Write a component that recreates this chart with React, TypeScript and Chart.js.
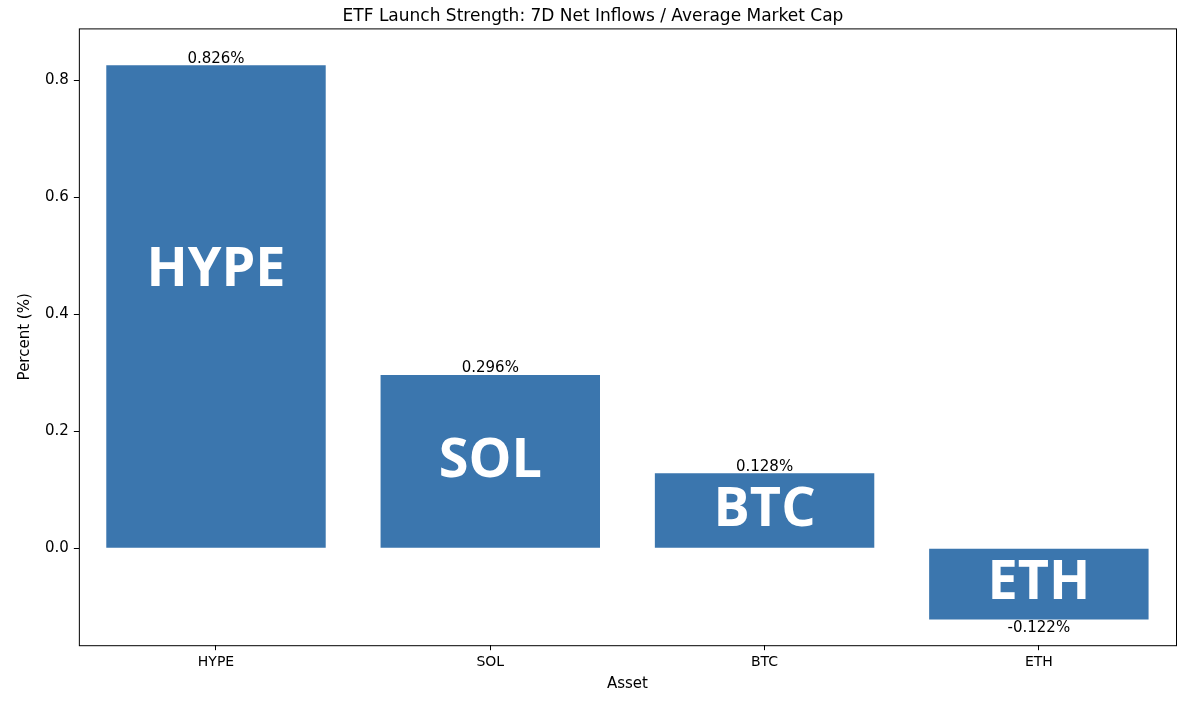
import React, { useEffect, useRef } from "react";
import { Chart, registerables } from "chart.js";
Chart.register(...registerables);

const categories = ["HYPE", "SOL", "BTC", "ETH"];
const values = [0.826, 0.296, 0.128, -0.122];
const valueLabels = ["0.826%", "0.296%", "0.128%", "-0.122%"];
const bigLabelValues = [0.475, 0.148, 0.064, -0.061];
const yTicks = [0, 0.2, 0.4, 0.6, 0.8];

const FONT = "'DejaVu Sans', sans-serif";

const overlay = {
  id: "overlay",
  afterDatasetsDraw(chart: any) {
    const ctx = chart.ctx;
    const meta = chart.getDatasetMeta(0);
    const y = chart.scales.y;
    const a = chart.chartArea;
    ctx.save();
    ctx.strokeStyle = "#000";
    ctx.lineWidth = 1;
    ctx.strokeRect(a.left + 0.5, a.top + 0.5, a.right - a.left, a.bottom - a.top);
    meta.data.forEach((bar: any, i: number) => {
      ctx.fillStyle = "#000";
      ctx.font = `15px ${FONT}`;
      ctx.textAlign = "center";
      ctx.textBaseline = values[i] >= 0 ? "bottom" : "top";
      ctx.fillText(valueLabels[i], bar.x, bar.y + 1);
      ctx.fillStyle = "#fff";
      ctx.font = `bold 54px 'Open Sans', sans-serif`;
      ctx.textBaseline = "middle";
      ctx.fillText(categories[i], bar.x, y.getPixelForValue(bigLabelValues[i]));
    });
    ctx.restore();
  },
};

export default function App() {
  const ref = useRef<HTMLCanvasElement>(null);
  useEffect(() => {
    document.body.style.margin = "0";
    const chart = new Chart(ref.current!, {
      type: "bar",
      data: {
        labels: categories,
        datasets: [{ data: values, backgroundColor: "#3b76ae", categoryPercentage: 1, barPercentage: 0.8 }],
      },
      plugins: [overlay],
      options: {
        animation: false,
        responsive: false,
        layout: { padding: { left: 10, right: 24, top: 0, bottom: 20 } },
        plugins: {
          legend: { display: false },
          tooltip: { enabled: false },
          title: {
            display: true,
            text: "ETF Launch Strength: 7D Net Inflows / Average Market Cap",
            color: "#000",
            font: { family: FONT, size: 17, weight: "normal" },
            padding: { top: 6, bottom: 2 },
          },
        },
        scales: {
          x: {
            grid: { offset: false, drawOnChartArea: false, drawTicks: true, tickLength: 5, color: "#000" },
            border: { display: false },
            ticks: { color: "#000", font: { family: FONT, size: 14 }, padding: 4 },
            title: { display: true, text: "Asset", color: "#000", font: { family: FONT, size: 15 }, padding: 0 },
          },
          y: {
            min: -0.166,
            max: 0.889,
            afterBuildTicks: (s: any) => { s.ticks = yTicks.map((v) => ({ value: v })); },
            grid: { drawOnChartArea: false, drawTicks: true, tickLength: 5, color: "#000" },
            border: { display: false },
            ticks: { color: "#000", font: { family: FONT, size: 15 }, padding: 5, callback: (v: any) => Number(v).toFixed(1) },
            title: { display: true, text: "Percent (%)", color: "#000", font: { family: FONT, size: 15 }, padding: 6 },
          },
        },
      } as any,
    });
    return () => chart.destroy();
  }, []);
  return <canvas ref={ref} width={1200} height={713} style={{ display: "block" }} />;
}
